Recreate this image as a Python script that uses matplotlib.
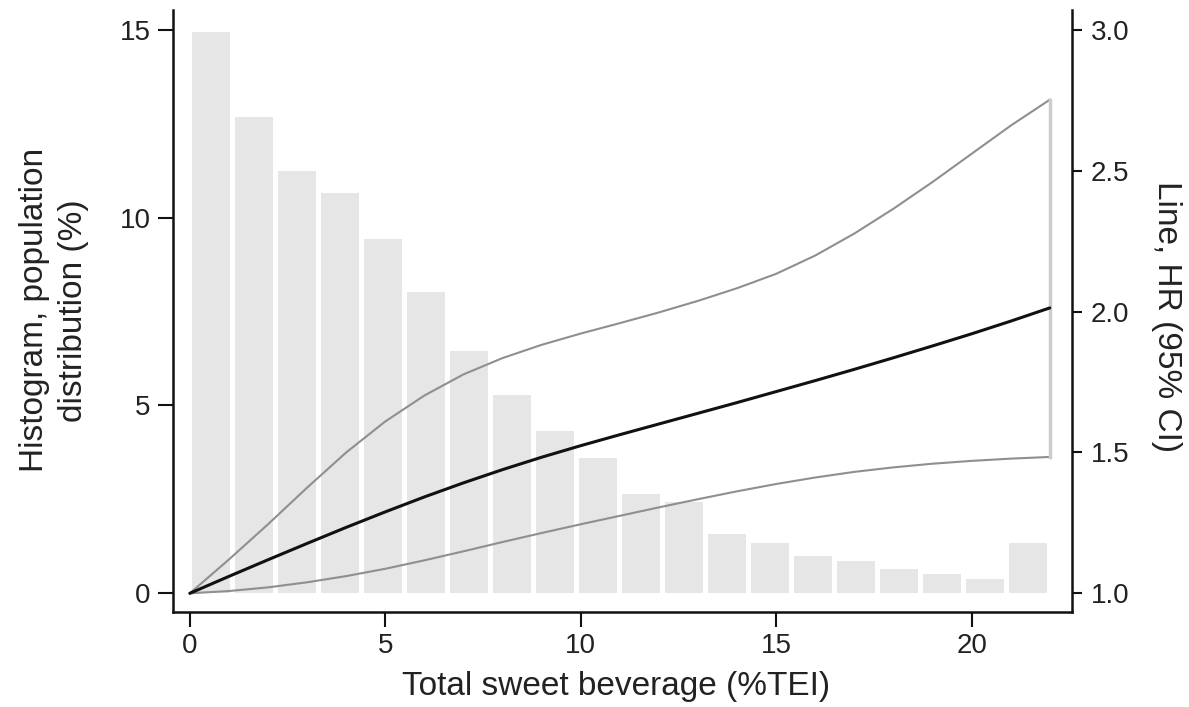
import numpy as np
import matplotlib
matplotlib.use("Agg")
import matplotlib.pyplot as plt

# ---- data ----
bin_width = 1.1
hist_pct = [14.94, 12.67, 11.23, 10.66, 9.44, 8.02, 6.46, 5.27, 4.32, 3.61,
            2.64, 2.43, 1.58, 1.34, 0.98, 0.87, 0.64, 0.51, 0.39, 1.33]

x_line = [0, 1, 2, 3, 4, 5, 6, 7, 8, 9, 10, 11, 12, 13, 14, 15, 16, 17, 18, 19, 20, 21, 22]
hr = [1.000, 1.060, 1.119, 1.177, 1.234, 1.289, 1.342, 1.392, 1.439, 1.483, 1.524,
      1.563, 1.601, 1.639, 1.677, 1.716, 1.755, 1.795, 1.836, 1.878, 1.921, 1.966, 2.013]
hr_upper = [1.000, 1.120, 1.245, 1.375, 1.500, 1.610, 1.702, 1.777, 1.835, 1.882, 1.922,
            1.959, 1.997, 2.038, 2.083, 2.134, 2.199, 2.277, 2.365, 2.460, 2.560, 2.660, 2.752]
hr_lower = [1.000, 1.008, 1.021, 1.039, 1.061, 1.087, 1.117, 1.149, 1.182, 1.214, 1.245,
            1.275, 1.305, 1.334, 1.362, 1.388, 1.411, 1.431, 1.447, 1.460, 1.470, 1.478, 1.484]

left_ticks = [0, 5, 10, 15]
right_ticks = [1.0, 1.5, 2.0, 2.5, 3.0]
x_ticks = [0, 5, 10, 15, 20]

# ---- style ----
plt.rcParams['font.family'] = ['Liberation Sans', 'DejaVu Sans']
txt = '#222222'

fig = plt.figure(figsize=(11.89, 7.07), dpi=100)
ax = fig.add_axes([0.1452, 0.1348, 0.9013 - 0.1452, 0.9859 - 0.1348])
ax2 = ax.twinx()

centers = bin_width * (np.arange(len(hist_pct)) + 0.5)
ax.bar(centers, hist_pct, width=bin_width * 0.89, color='#e6e6e6', linewidth=0)

ax2.plot(x_line, hr_upper, color='#8f8f8f', lw=1.5, solid_joinstyle='round')
ax2.plot(x_line, hr_lower, color='#8f8f8f', lw=1.5, solid_joinstyle='round')
ax2.plot([x_line[-1], x_line[-1]], [hr_lower[-1], hr_upper[-1]], color='#cccccc', lw=2.5)
ax2.plot(x_line, hr, color='#111111', lw=2.2, solid_capstyle='round',
         solid_joinstyle='round')

ax.set_xlim(-0.44, 22.56)
ylo, yhi = -0.49, 15.53
ax.set_ylim(ylo, yhi)
ax2.set_ylim(1 + ylo / 7.5, 1 + yhi / 7.5)

ax.set_xticks(x_ticks)
ax.set_yticks(left_ticks)
ax2.set_yticks(right_ticks)
ax2.set_yticklabels([f"{t:.1f}" for t in right_ticks])

for a in (ax, ax2):
    a.spines['top'].set_visible(False)
    for s in ('left', 'bottom', 'right'):
        a.spines[s].set_linewidth(1.8)
        a.spines[s].set_color('#111111')
ax.spines['right'].set_visible(False)
ax2.spines['left'].set_visible(False)
ax2.spines['bottom'].set_visible(False)

ax.tick_params(axis='both', length=11, width=1.5, color='#111111',
               labelsize=20, labelcolor=txt, pad=4)
ax.tick_params(axis='y', pad=5)
ax2.tick_params(axis='y', length=7.5, width=1.5, color='#111111',
                labelsize=20, labelcolor=txt, pad=6)

ax.set_xlabel('Total sweet beverage (%TEI)', fontsize=24, color=txt)
ax.xaxis.label.set_va('center')
ax.xaxis.set_label_coords(0.493, -0.125)

ax.set_ylabel('Histogram, population\ndistribution (%)', fontsize=24, color=txt,
              linespacing=1.3)
ax.yaxis.label.set_va('center')
ax.yaxis.set_label_coords(-0.132, 0.501)

ax2.set_ylabel('Line, HR (95% CI)', fontsize=24, color=txt, rotation=270)
ax2.yaxis.label.set_va('center')
ax2.yaxis.set_label_coords(1.1057, 0.491)

fig.savefig('out.png', dpi=100)
